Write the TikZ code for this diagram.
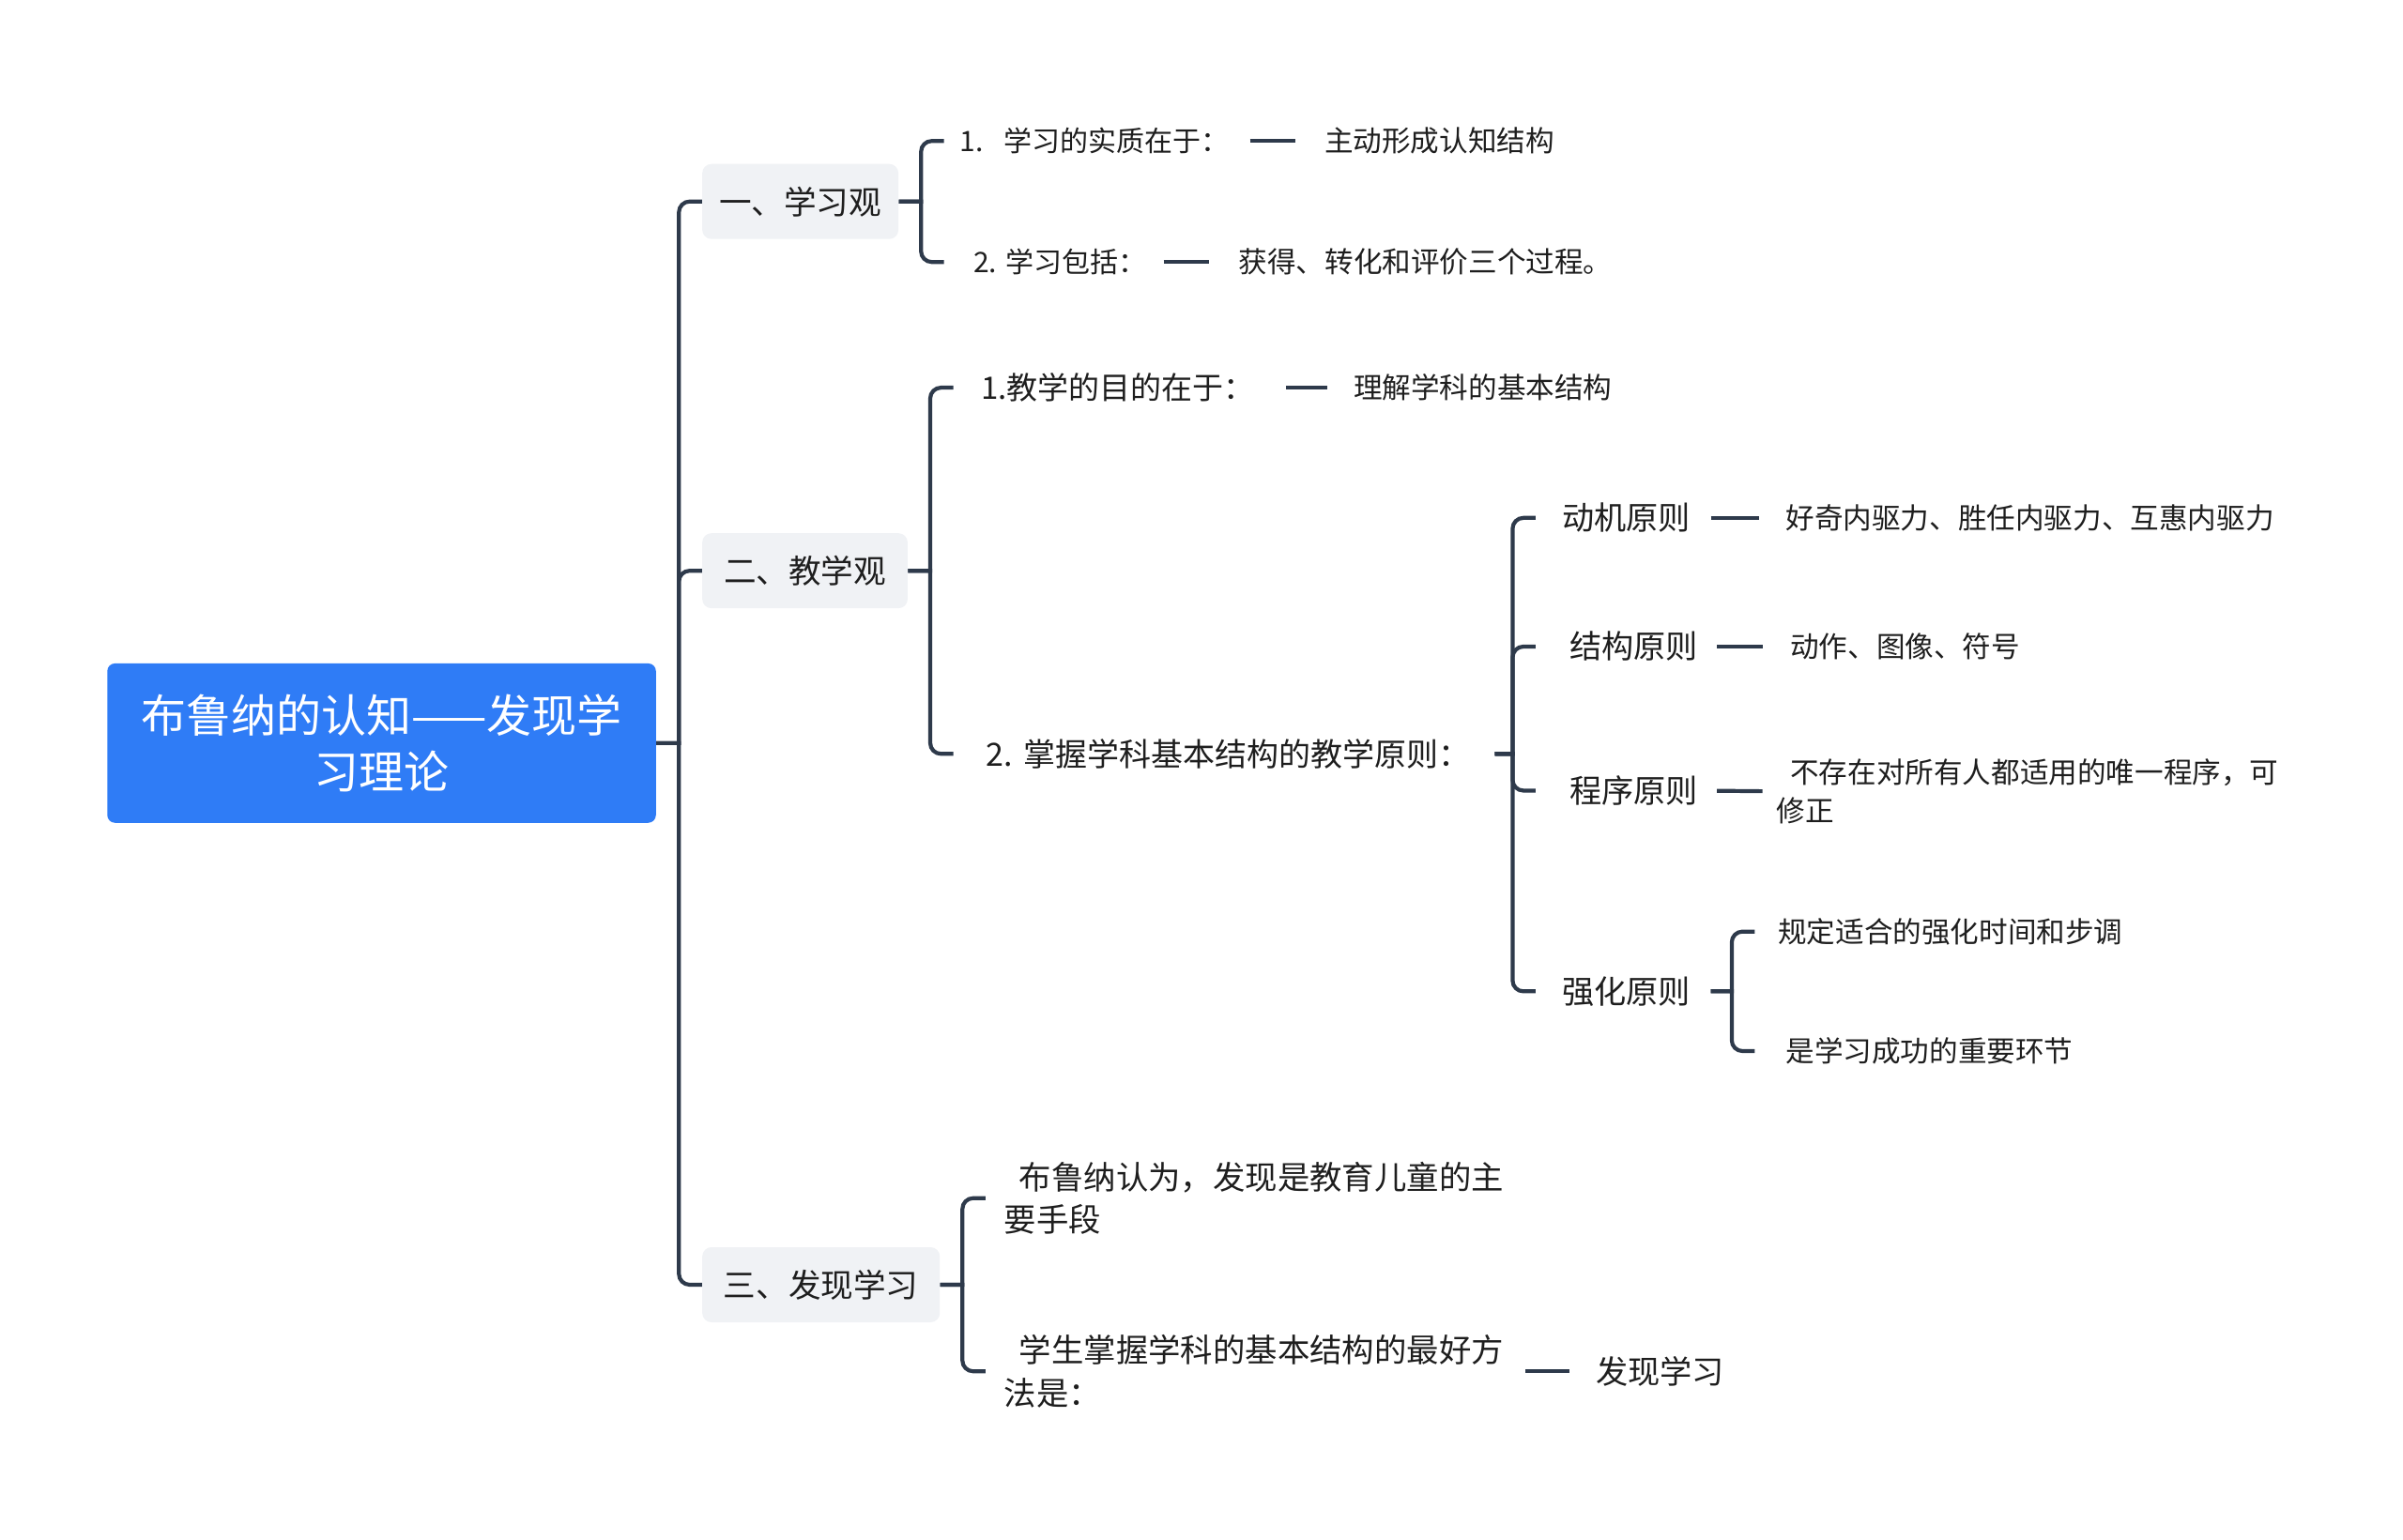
\documentclass[tikz,border=0pt]{standalone}
\usepackage{fontspec}
\newfontfamily\cjk{Noto Sans CJK SC}
\usetikzlibrary{calc}
\newlength{\ulen}
\setlength{\ulen}{0.8163pt}
\definecolor{linec}{RGB}{46,58,75}
\definecolor{rootc}{RGB}{47,124,246}
\definecolor{boxc}{RGB}{240,242,245}
\definecolor{txtc}{RGB}{30,30,30}
\begin{document}
\begin{tikzpicture}[x=0.8163pt,y=-0.8163pt,
  conn/.style={draw=linec,line width=2.1pt},
  br/.style={conn,shorten >=#1\ulen},
  dashc/.style 2 args={conn,shorten <=#1\ulen,shorten >=#2\ulen},
  base/.style={text=txtc,inner sep=0pt,anchor=west},
  rootbox/.style={fill=rootc,rounded corners=5\ulen,text=white,inner sep=0pt,
    minimum width=358\ulen,minimum height=104\ulen,align=center,
    font=\cjk\fontsize{24pt}{30.2pt}\selectfont},
  lvbox/.style={base,fill=boxc,rounded corners=6\ulen,minimum height=49\ulen,
    font=\cjk\fontsize{17.3pt}{22pt}\selectfont},
  t15/.style={base,font=\cjk\fontsize{15pt}{19.5pt}\selectfont},
  t15v/.style={base,font=\cjk\fontsize{15.3pt}{20.4pt}\selectfont},
  t15m/.style={base,align=left,font=\cjk\fontsize{15.3pt}{20.4pt}\selectfont},
  t16/.style={base,font=\cjk\fontsize{16.5pt}{20pt}\selectfont},
  t165/.style={base,font=\cjk\fontsize{17pt}{21pt}\selectfont},
  t17/.style={base,font=\cjk\fontsize{17.1pt}{22pt}\selectfont},
  t17m/.style={base,align=left,font=\cjk\fontsize{17.2pt}{22.9pt}\selectfont}]
\useasboundingbox (0,0) rectangle (1568,1005);

% root and level-1
\node[rootbox] (root) at (249,485) {布鲁纳的认知——发现学\\习理论};
\node[lvbox,minimum width=128\ulen] (b1) at (458,131.5) {一、学习观};
\node[lvbox,minimum width=134\ulen] (b2) at (458,372.5) {二、教学观};
\node[lvbox,minimum width=155\ulen] (b3) at (458,838.5) {三、发现学习};

% branch 1
\node[t15] (i11) at (626,92) {1.\hspace{0.75em}学习的实质在于：};
\node[t15v] (v11) at (864,92) {主动形成认知结构};
\node[t15] (i12) at (635,171) {2.\hspace{0.3em}学习包括：};
\node[t15v] (v12) at (808,171) {获得、转化和评价三个过程。};

% branch 2
\node[t16] (i21) at (640,253) {1.教学的目的在于：};
\node[t15v] (v21) at (883,253) {理解学科的基本结构};
\node[t165] (i22) at (643,492) {2.\hspace{0.34em}掌握学科基本结构的教学原则：};
\node[t17] (p1) at (1019,338) {动机原则};
\node[t15v] (q1) at (1165,338) {好奇内驱力、胜任内驱力、互惠内驱力};
\node[t17] (p2) at (1024,422) {结构原则};
\node[t15v] (q2) at (1168,422) {动作、图像、符号};
\node[t17] (p3) at (1024,516) {程序原则};
\node[t15m] (q3) at (1159,516.5) {\hspace*{0.48em}不存在对所有人都适用的唯一程序，可\\修正};
\node[t17] (p4) at (1019,647) {强化原则};
\node[t15v] (r1) at (1160,608) {规定适合的强化时间和步调};
\node[t15v] (r2) at (1165,686) {是学习成功的重要环节};

% branch 3
\node[t17m] (d1) at (655,782) {\hspace*{0.47em}布鲁纳认为，发现是教育儿童的主\\要手段};
\node[t17m] (d2) at (655,895) {\hspace*{0.47em}学生掌握学科的基本结构的最好方\\法是：};
\node[t17] (vd) at (1041,895) {发现学习};

% junctions
\coordinate (j0) at (443,485);
\coordinate (j1) at (601,131.5);
\coordinate (j2) at (607,372.5);
\coordinate (j3) at (628,838.5);
\coordinate (j22) at (987,492);
\coordinate (j4) at (1130,647);

% tree connectors (parent -> junction sharp, junction -> child rounded)
\draw[br=0] (root.east) -- (j0) [rounded corners=7\ulen] |- (b1.west);
\draw[br=0] (root.east) -- (j0) [rounded corners=7\ulen] |- (b2.west);
\draw[br=0] (root.east) -- (j0) [rounded corners=7\ulen] |- (b3.west);
\draw[br=10] (b1.east) -- (j1) [rounded corners=7\ulen] |- (i11.west);
\draw[br=19] (b1.east) -- (j1) [rounded corners=7\ulen] |- (i12.west);
\draw[br=18] (b2.east) -- (j2) [rounded corners=7\ulen] |- (i21.west);
\draw[br=21] (b2.east) -- (j2) [rounded corners=7\ulen] |- (i22.west);
\draw[br=17,shorten <=16\ulen] (i22.east) -- (j22) [rounded corners=7\ulen] |- (p1.west);
\draw[br=22,shorten <=16\ulen] (i22.east) -- (j22) [rounded corners=7\ulen] |- (p2.west);
\draw[br=22,shorten <=16\ulen] (i22.east) -- (j22) [rounded corners=7\ulen] |- (p3.west);
\draw[br=17,shorten <=16\ulen] (i22.east) -- (j22) [rounded corners=7\ulen] |- (p4.west);
\draw[br=15,shorten <=13\ulen] (p4.east) -- (j4) [rounded corners=7\ulen] |- (r1.west);
\draw[br=20,shorten <=13\ulen] (p4.east) -- (j4) [rounded corners=7\ulen] |- (r2.west);
\draw[br=12] (b3.east) -- (j3) [rounded corners=7\ulen] |- (d1.west);
\draw[br=12] (b3.east) -- (j3) [rounded corners=7\ulen] |- (d2.west);

% dash connectors
\draw[dashc={13}{19}] (i11.east) -- (v11.west);
\draw[dashc={11}{19}] (i12.east) -- (v12.west);
\draw[dashc={20}{17}] (i21.east) -- (v21.west);
\draw[dashc={13}{17}] (p1.east) -- (q1.west);
\draw[dashc={12}{18}] (p2.east) -- (q2.west);
\draw[dashc={12}{9}] (p3.east) -- (q3.west);
\draw[dashc={14}{17}] (d2.east) -- (vd.west);
\end{tikzpicture}
\end{document}
